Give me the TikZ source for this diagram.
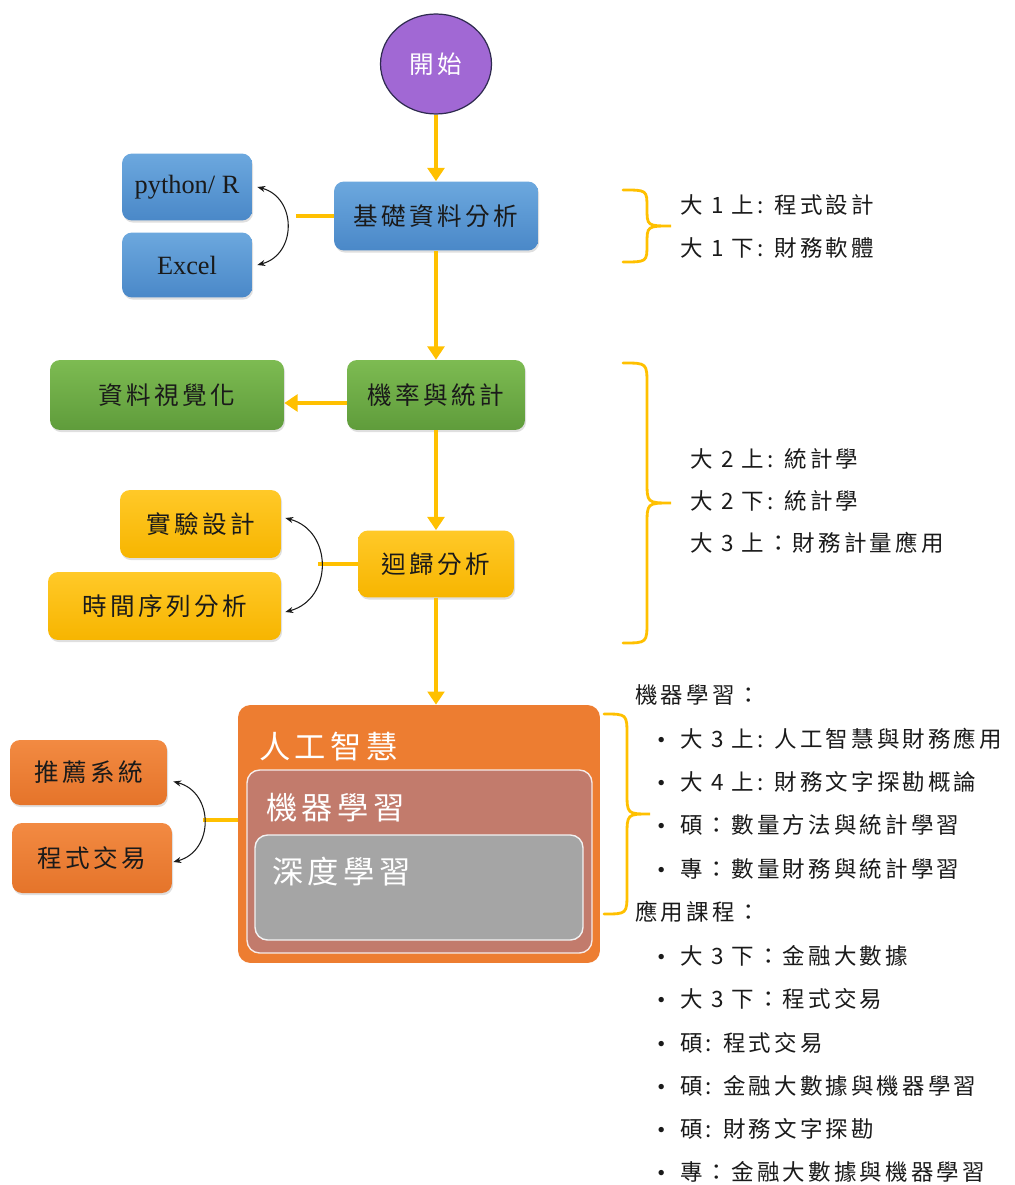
\documentclass[tikz,border=0pt]{standalone}
\usepackage{fontspec}
\setmainfont{Liberation Serif}
\newfontfamily\cjk[LetterSpace=14]{Noto Sans CJK TC}
\usepackage{tikz}
\usetikzlibrary{arrows.meta,shapes.geometric,shadows}
\definecolor{ink}{HTML}{1A1A1A}
\definecolor{yel}{HTML}{FFC000}
\definecolor{purp}{HTML}{A168D4}
\definecolor{purpline}{HTML}{2F2B50}
\definecolor{blutop}{HTML}{6CA8DE}
\definecolor{blubot}{HTML}{4A88C8}
\definecolor{grntop}{HTML}{7DBB52}
\definecolor{grnbot}{HTML}{5F9C3B}
\definecolor{goldtop}{HTML}{FFC928}
\definecolor{goldbot}{HTML}{F7B500}
\definecolor{orgtop}{HTML}{F28A42}
\definecolor{orgbot}{HTML}{E5742A}
\definecolor{org}{HTML}{ED7D31}
\definecolor{rose}{HTML}{C27B6C}
\definecolor{gry}{HTML}{A5A5A5}
\tikzset{
  box/.style={rounded corners=0.2cm, inner sep=0pt, text=ink,
    font=\cjk\fontsize{14}{17}\selectfont,
    drop shadow={shadow xshift=0.6pt, shadow yshift=-1.2pt, opacity=0.25}},
  blu/.style={box, top color=blutop, bottom color=blubot},
  grn/.style={box, top color=grntop, bottom color=grnbot},
  gld/.style={box, top color=goldtop, bottom color=goldbot},
  orn/.style={box, top color=orgtop, bottom color=orgbot},
  startc/.style={ellipse, fill=purp, draw=purpline, line width=0.7pt,
    minimum width=2.22cm, minimum height=2.0cm, inner sep=0pt, text=white,
    font=\cjk\fontsize{14}{17}\selectfont},
  layer/.style={rounded corners=0.25cm, inner sep=0pt},
  ttl/.style={anchor=west, inner sep=0pt, text=white, font=\cjk\fontsize{17.8}{21}\selectfont},
  flow/.style={draw=yel, line width=2.5pt, -{Triangle[width=9.5pt,length=7.5pt]}},
  link/.style={draw=yel, line width=2.5pt},
  swap/.style={draw=ink, line width=0.6pt,
    {Stealth[length=4.5pt,width=3.5pt]}-{Stealth[length=4.5pt,width=3.5pt]}},
  brc/.style={draw=yel, line width=1.6pt, line cap=round},
  lab/.style={anchor=west, inner sep=0pt, text=ink, font=\cjk\fontsize{12.8}{15}\selectfont},
}
\begin{document}
\begin{tikzpicture}[x=0.02cm,y=0.02cm]
  \useasboundingbox (0,0) rectangle (1014,-1185);

  % main column
  \node[startc] (start) at (436,-64) {開始};
  \node[blu,minimum width=4.08cm,minimum height=1.38cm] (base) at (436,-216) {基礎資料分析};
  \node[grn,minimum width=3.56cm,minimum height=1.4cm] (prob) at (436,-395) {機率與統計};
  \node[gld,minimum width=3.12cm,minimum height=1.34cm] (reg) at (436,-564) {迴歸分析};

  \node[layer,fill=org,minimum width=7.24cm,minimum height=5.16cm] (ai) at (419,-834) {};
  \node[layer,fill=rose,draw=white!85!rose,line width=0.8pt,minimum width=6.9cm,minimum height=3.66cm] (ml) at (419.5,-861.5) {};
  \node[layer,fill=gry,draw=white!85!gry,line width=0.8pt,minimum width=6.56cm,minimum height=2.1cm] (dl) at (419,-887.5) {};
  \node[ttl] (ait) at (259,-747) {人工智慧};
  \node[ttl] (mlt) at (266,-808) {機器學習};
  \node[ttl] (dlt) at (272,-872) {深度學習};

  % side boxes
  \node[blu,minimum width=2.6cm,minimum height=1.34cm,font=\fontsize{15}{18}\selectfont] (py) at (187,-187) {python/ R};
  \node[blu,minimum width=2.6cm,minimum height=1.3cm,font=\fontsize{15}{18}\selectfont] (ex) at (187,-265) {Excel};
  \node[grn,minimum width=4.68cm,minimum height=1.4cm] (vis) at (167,-395) {資料視覺化};
  \node[gld,minimum width=3.22cm,minimum height=1.36cm] (exp) at (200.5,-524) {實驗設計};
  \node[gld,minimum width=4.66cm,minimum height=1.36cm] (ts) at (164.5,-606) {時間序列分析};
  \node[orn,minimum width=3.14cm,minimum height=1.3cm] (rec) at (88.5,-772.5) {推薦系統};
  \node[orn,minimum width=3.2cm,minimum height=1.4cm] (algo) at (92,-858) {程式交易};

  % connectors
  \draw[flow] (start) -- (base);
  \draw[flow] (base) -- (prob);
  \draw[flow] ([yshift=-0.16cm]prob.west) -- ([yshift=-0.16cm]vis.east);
  \draw[flow] (prob) -- (reg);
  \draw[flow] (reg.south) -- (reg.south |- ai.north);

  \coordinate (j1) at (296,-216);
  \coordinate (j2) at (318,-564);
  \coordinate (j3) at (203,-820);
  \draw[link] (base.west) -- (j1);
  \draw[link] (reg.west) -- (j2);
  \draw[link] (j3 -| ai.west) -- (j3);

  \draw[swap] ([xshift=0.1cm]py.east) to[bend left=75,looseness=1.35] ([xshift=0.1cm]ex.east);
  \draw[swap] ([xshift=0.08cm,yshift=0.12cm]exp.east) to[bend left=75,looseness=1.35] ([xshift=0.08cm,yshift=-0.12cm]ts.east);
  \draw[swap] ([xshift=0.12cm,yshift=-0.18cm]rec.east) to[bend left=75,looseness=1.35] ([xshift=0.02cm,yshift=-0.08cm]algo.east);

  % braces
  \foreach \bx/\bt/\bb/\bw/\br in {623/190/262/48/18, 623/363/643/48/22, 604/714/914/46/22}{
    \draw[brc] (\bx,-\bt) .. controls ({\bx+\bw/2},-\bt) .. ({\bx+\bw/2},{-\bt-\br})
      -- ({\bx+\bw/2},{-(\bt+\bb)/2+\br}) .. controls ({\bx+\bw/2},{-(\bt+\bb)/2}) .. ({\bx+\bw},{-(\bt+\bb)/2})
      .. controls ({\bx+\bw/2},{-(\bt+\bb)/2}) .. ({\bx+\bw/2},{-(\bt+\bb)/2-\br})
      -- ({\bx+\bw/2},{-\bb+\br}) .. controls ({\bx+\bw/2},-\bb) .. (\bx,-\bb);
  }

  % course notes
  \node[lab] (y1a) at (680,-205) {大 1 上: 程式設計};
  \node[lab] (y1b) at (680,-248) {大 1 下: 財務軟體};
  \node[lab] (y2a) at (690,-459) {大 2 上: 統計學};
  \node[lab] (y2b) at (690,-501) {大 2 下: 統計學};
  \node[lab] (y3a) at (690,-543) {大 3 上：財務計量應用};

  \node[lab] (mlh) at (635,-695) {機器學習：};
  \foreach \txt [count=\i] in {大 3 上: 人工智慧與財務應用,大 4 上: 財務文字探勘概論,碩：數量方法與統計學習,專：數量財務與統計學習}{
    \node[lab] (mlc\i) at (657,{-739-43.2*(\i-1)}) {\makebox[0.46cm][l]{\rmfamily\textbullet}\txt};
  }
  \node[lab] (aph) at (635,-912) {應用課程：};
  \foreach \txt [count=\i] in {大 3 下：金融大數據,大 3 下：程式交易,碩: 程式交易,碩: 金融大數據與機器學習,碩: 財務文字探勘,專：金融大數據與機器學習}{
    \node[lab] (apc\i) at (657,{-956-43.2*(\i-1)}) {\makebox[0.46cm][l]{\rmfamily\textbullet}\txt};
  }
\end{tikzpicture}
\end{document}
